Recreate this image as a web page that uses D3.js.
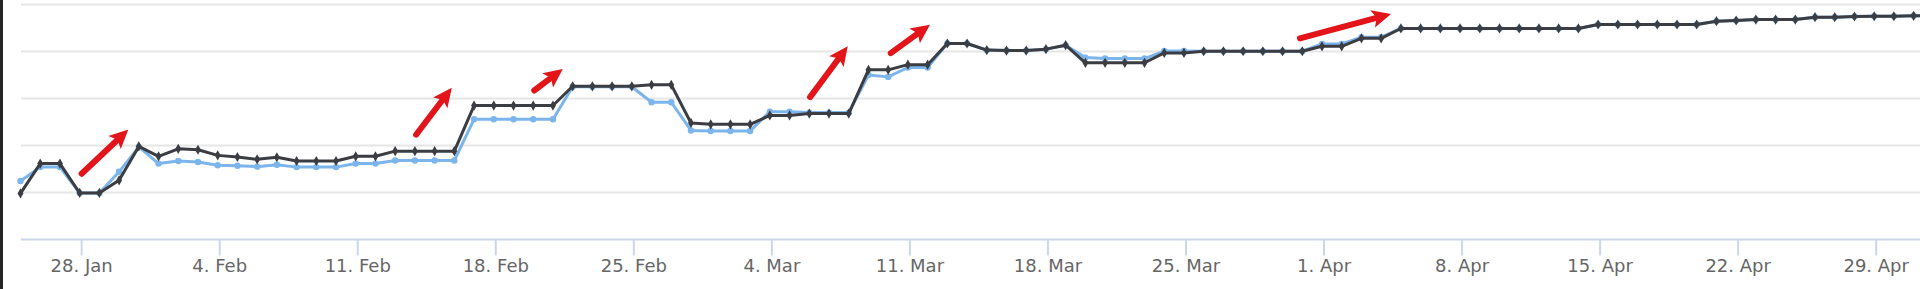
<!DOCTYPE html>
<html>
<head>
<meta charset="utf-8">
<script src="https://cdn.jsdelivr.net/npm/d3@7"></script>
<style>
  html, body { margin: 0; padding: 0; background: #fff; }
  svg { display: block; }
</style>
</head>
<body>
<svg id="chart" width="1920" height="289"></svg>
<script>
// Daily values, first point is 25 Jan 2018
const startDay = '2018-01-25';

const darkValues = [
  9.8, 16.15, 16.15, 9.9, 9.9, 12.6, 19.8, 17.7, 19.3, 19.1,
  17.9, 17.55, 17.06, 17.5, 16.7, 16.7, 16.7, 17.7, 17.7, 18.8,
  18.8, 18.8, 18.8, 28.5, 28.5, 28.5, 28.5, 28.5, 32.6, 32.6,
  32.6, 32.6, 32.9, 32.9, 24.8, 24.5, 24.5, 24.5, 26.4, 26.4,
  26.8, 26.8, 26.8, 36.1, 36.1, 37.2, 37.2, 41.7, 41.7, 40.3,
  40.2, 40.2, 40.5, 41.35, 37.6, 37.6, 37.6, 37.6, 39.7, 39.7,
  40.05, 40.05, 40.05, 40.05, 40.05, 40.05, 41.1, 41.1, 42.8, 42.8,
  44.9, 44.9, 44.9, 44.9, 44.9, 44.9, 44.9, 44.9, 44.9, 44.9,
  45.75, 45.75, 45.75, 45.75, 45.75, 45.75, 46.45, 46.6, 46.8, 46.8,
  46.8, 47.3, 47.3, 47.45, 47.5, 47.5, 47.6, 47.6
];

const blueValues = [
  12.45, 15.4, 15.4, 9.9, 9.9, 14.4, 19.7, 16.15, 16.7, 16.5,
  15.8, 15.7, 15.5, 15.9, 15.4, 15.4, 15.4, 16.15, 16.15, 16.8,
  16.8, 16.8, 16.8, 25.6, 25.6, 25.6, 25.6, 25.6, 32.5, 32.5,
  32.5, 32.5, 29.2, 29.2, 23.2, 23.1, 23.1, 23.1, 27.2, 27.2,
  27.0, 27.0, 27.0, 35.0, 34.6, 36.6, 36.6, 41.7, 41.7, 40.3,
  40.2, 40.2, 40.5, 41.35, 38.7, 38.5, 38.5, 38.5, 40.1, 40.1,
  40.05, 40.05, 40.05, 40.05, 40.05, 40.05, 41.6, 41.6, 43.05, 43.05,
  44.9, 44.9, 44.9, 44.9, 44.9, 44.9, 44.9, 44.9, 44.9, 44.9,
  45.75, 45.75, 45.75, 45.75, 45.75, 45.75, 46.45, 46.6, 46.8, 46.8,
  46.8, 47.3, 47.3, 47.45, 47.5, 47.5, 47.6, 47.6
];

const yTicks = [0, 10, 20, 30, 40, 50];

// red arrows, in [day after start, value]
const arrowStarts = [[3.1, 14.0], [20.06, 22.3], [26.05, 31.7], [40.04, 30.3], [44.13, 39.65], [64.88, 42.8]];
const arrowEnds   = [[5.47, 23.4], [21.87, 32.3], [27.5, 36.3], [41.95, 41.1], [46.12, 45.7], [69.5, 48.0]];

const W = 1920, H = 289;
const svg = d3.select('#chart');

const t0 = d3.utcParse('%Y-%m-%d')(startDay);
const dayToDate = (d) => new Date(t0.getTime() + d * 864e5);

const x = d3.scaleUtc()
  .domain([t0, d3.utcDay.offset(t0, 98)])
  .range([20.5, 20.5 + 98 * 19.72]);

const y = d3.scaleLinear().domain([0, 50]).range([239.5, 4.5]);

const dark = darkValues.map((v, i) => ({ date: d3.utcDay.offset(t0, i), v }));
const blue = blueValues.map((v, i) => ({ date: d3.utcDay.offset(t0, i), v }));

// left border strip of the screenshot
svg.append('rect').attr('x', 0).attr('y', 0).attr('width', 3).attr('height', H).attr('fill', '#262626');

// grid lines
svg.append('g').selectAll('line')
  .data(yTicks.filter(t => t > 0))
  .join('line')
  .attr('x1', 21).attr('x2', W)
  .attr('y1', d => y(d)).attr('y2', d => y(d))
  .attr('stroke', '#e6e6e6').attr('stroke-width', 2);

// x axis line
svg.append('line')
  .attr('x1', 21).attr('x2', W)
  .attr('y1', y(0)).attr('y2', y(0))
  .attr('stroke', '#ccd6eb').attr('stroke-width', 2);

// x ticks + labels (ticks sit ~2px right of the points in the original)
const fmt = d3.utcFormat('%-d. %b');
const ticks = svg.append('g').attr('transform', 'translate(2,0)')
  .selectAll('g').data(x.ticks(d3.utcSunday)).join('g')
  .attr('transform', d => `translate(${x(d)},0)`);
ticks.append('line')
  .attr('y1', y(0)).attr('y2', y(0) + 16)
  .attr('stroke', '#ccd6eb').attr('stroke-width', 2);
ticks.append('text')
  .attr('y', 272)
  .attr('text-anchor', 'middle')
  .attr('font-family', 'DejaVu Sans, sans-serif')
  .attr('font-size', 18)
  .attr('fill', '#666')
  .text(d => fmt(d));

const line = d3.line().x(d => x(d.date)).y(d => y(d.v));

// blue series (below)
svg.append('path').datum(blue)
  .attr('d', line).attr('fill', 'none')
  .attr('stroke', '#7cb5ec').attr('stroke-width', 3).attr('stroke-linejoin', 'round');
svg.append('g').selectAll('circle').data(blue).join('circle')
  .attr('cx', d => x(d.date)).attr('cy', d => y(d.v)).attr('r', 3.2)
  .attr('fill', '#7cb5ec');

// dark series (on top)
svg.append('path').datum(dark)
  .attr('d', line).attr('fill', 'none')
  .attr('stroke', '#3b3d42').attr('stroke-width', 3).attr('stroke-linejoin', 'round');
svg.append('g').selectAll('path').data(dark).join('path')
  .attr('d', d3.symbol(d3.symbolDiamond, 30))
  .attr('transform', d => `translate(${x(d.date)},${y(d.v)})`)
  .attr('fill', '#3b3d42');

// red annotation arrows
const red = '#e3151a';
arrowStarts.forEach((s, i) => {
  const e = arrowEnds[i];
  const x1 = x(dayToDate(s[0])), y1 = y(s[1]);
  const x2 = x(dayToDate(e[0])), y2 = y(e[1]);
  const len = Math.hypot(x2 - x1, y2 - y1);
  const ux = (x2 - x1) / len, uy = (y2 - y1) / len;
  const nx = -uy, ny = ux;
  const headLen = 19, headHalf = 9;
  const bx = x2 - ux * headLen, by = y2 - uy * headLen;
  svg.append('line')
    .attr('x1', x1).attr('y1', y1).attr('x2', bx + ux * 2).attr('y2', by + uy * 2)
    .attr('stroke', red).attr('stroke-width', 6).attr('stroke-linecap', 'round');
  svg.append('path')
    .attr('d', `M${x2},${y2}L${bx + nx * headHalf},${by + ny * headHalf}L${bx + ux * 4},${by + uy * 4}L${bx - nx * headHalf},${by - ny * headHalf}Z`)
    .attr('fill', red);
});
</script>
</body>
</html>
